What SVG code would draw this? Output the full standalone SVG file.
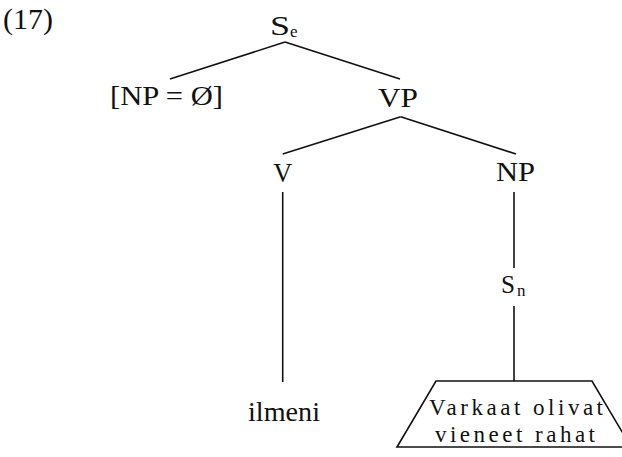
<svg xmlns="http://www.w3.org/2000/svg" width="622" height="457" viewBox="0 0 622 457">
<style>
text{font-family:"Liberation Serif","DejaVu Serif",serif;fill:#111}
.lbl{font-size:28px;text-anchor:middle}
.sub{font-size:17px}
.e{stroke:#111;stroke-width:1.6;fill:none}
.tri{font-size:23px}
</style>
<rect width="622" height="457" fill="#fff"/>
<text x="3" y="29" font-size="29" textLength="50" lengthAdjust="spacingAndGlyphs">(17)</text>
<g id="connectors">
<line class="e" x1="285" y1="42" x2="170" y2="79"/>
<line class="e" x1="285" y1="42" x2="400" y2="79"/>
<line class="e" x1="400.7" y1="116.7" x2="282.7" y2="154"/>
<line class="e" x1="400.7" y1="116.7" x2="516" y2="154"/>
<line class="e" x1="282.7" y1="192" x2="282.7" y2="382"/>
<line class="e" x1="514" y1="192" x2="514" y2="268"/>
<line class="e" x1="514" y1="306" x2="514" y2="381"/>
</g>
<g id="Se"><text x="270" y="35" font-size="28" textLength="20" lengthAdjust="spacingAndGlyphs">S</text><text class="sub" x="290" y="37">e</text></g>
<g id="NPnull"><text class="lbl" x="166.5" y="105" textLength="113" lengthAdjust="spacingAndGlyphs">[NP = Ø]</text></g>
<g id="VP"><text class="lbl" x="398" y="107" textLength="40" lengthAdjust="spacingAndGlyphs">VP</text></g>
<g id="V"><text class="lbl" x="282.7" y="182" textLength="19" lengthAdjust="spacingAndGlyphs">V</text></g>
<g id="NP"><text class="lbl" x="515.5" y="181" textLength="39" lengthAdjust="spacingAndGlyphs">NP</text></g>
<g id="Sn"><text x="501" y="293" font-size="26" textLength="14" lengthAdjust="spacingAndGlyphs">S</text><text class="sub" x="517" y="296">n</text></g>
<g id="ilmeni"><text class="lbl" x="284" y="421" textLength="72" lengthAdjust="spacingAndGlyphs">ilmeni</text></g>
<g id="clause">
<polygon class="e" points="436,381 592,381 631,447 397,447"/>
<text class="tri" x="429" y="415" textLength="174" lengthAdjust="spacing">Varkaat olivat</text>
<text class="tri" x="435" y="442" textLength="160" lengthAdjust="spacing">vieneet rahat</text>
</g>
</svg>
